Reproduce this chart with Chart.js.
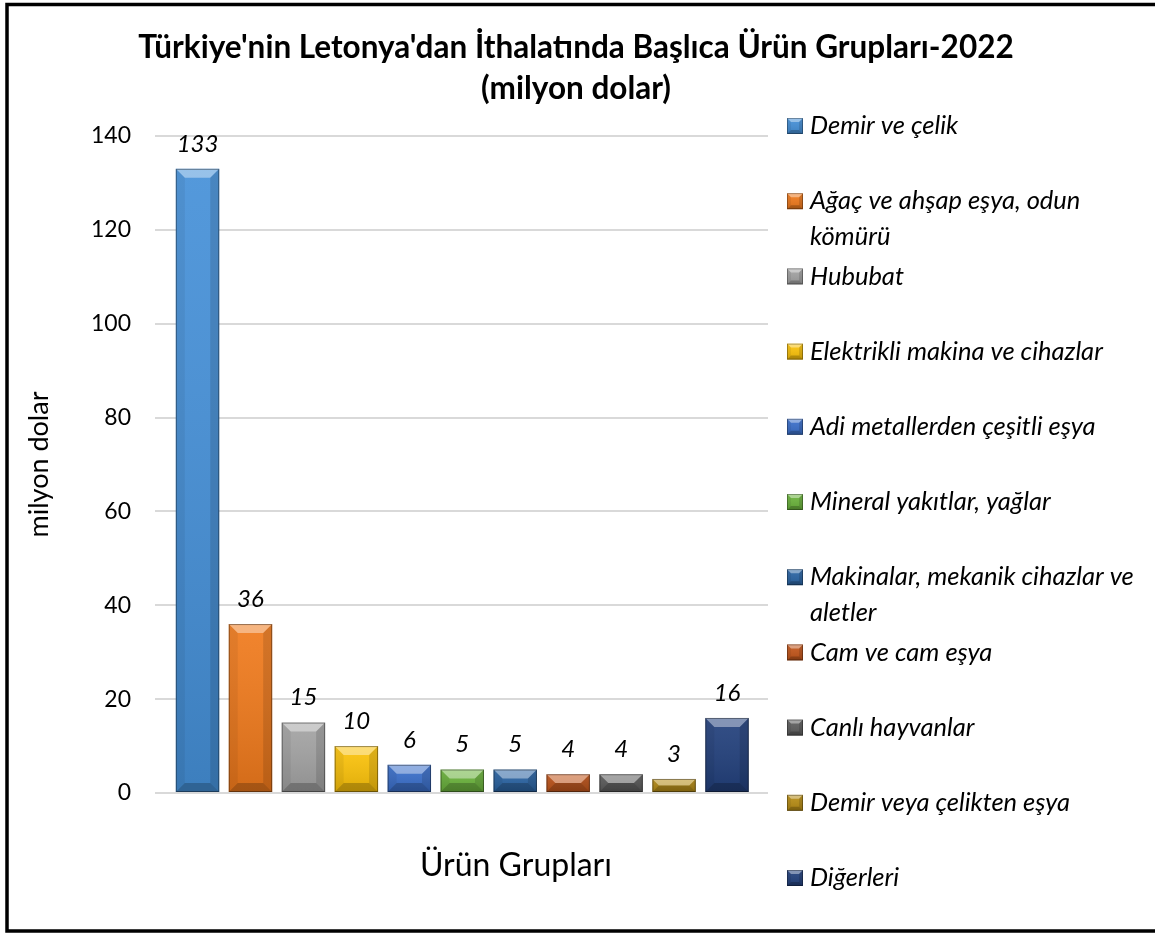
<!DOCTYPE html>
<html><head><meta charset="utf-8">
<script src="https://cdn.jsdelivr.net/npm/chart.js@4.4.1/dist/chart.umd.min.js"></script>
<style>html,body{margin:0;padding:0;background:#fff;overflow:hidden}#wrap{width:1155px;height:934px;position:relative}</style>
</head><body><div id="wrap"><canvas id="c" width="1155" height="934"></canvas></div>
<script>
const categories = ["Demir ve çelik","Ağaç ve ahşap eşya, odun kömürü","Hububat","Elektrikli makina ve cihazlar","Adi metallerden çeşitli eşya","Mineral yakıtlar, yağlar","Makinalar, mekanik cihazlar ve aletler","Cam ve cam eşya","Canlı hayvanlar","Demir veya çelikten eşya","Diğerleri"];
const values = [133,36,15,10,6,5,5,4,4,3,16];
const barColors = ["#4590d8","#f07a1c","#a3a3a3","#fcc30a","#3a6fcb","#6bb43c","#2a64a4","#c4561a","#5e5e5e","#b88d14","#22407c"];
const yMin = 0, yMax = 140, yStep = 20;
const titleLines = ["Türkiye'nin Letonya'dan İthalatında Başlıca Ürün Grupları-2022","(milyon dolar)"];
const yAxisTitle = "milyon dolar";
const xAxisTitle = "Ürün Grupları";

const FONT = "Lato, 'Open Sans', sans-serif";

function bevel(ctx, L, T, R, B, b, lineW){
  const w = R-L, h = B-T;
  const bb = Math.max(0, Math.min(b, h/2, w/2));
  ctx.save();
  const g = ctx.createLinearGradient(0, T, 0, B);
  g.addColorStop(0, 'rgba(255,255,255,0.08)');
  g.addColorStop(1, 'rgba(0,0,0,0.12)');
  ctx.fillStyle = g; ctx.fillRect(L, T, w, h);
  ctx.fillStyle = 'rgba(255,255,255,0.4)';
  ctx.beginPath(); ctx.moveTo(L,T); ctx.lineTo(R,T); ctx.lineTo(R-bb,T+bb); ctx.lineTo(L+bb,T+bb); ctx.closePath(); ctx.fill();
  ctx.fillStyle = 'rgba(0,0,0,0.22)';
  ctx.beginPath(); ctx.moveTo(L,B); ctx.lineTo(R,B); ctx.lineTo(R-bb,B-bb); ctx.lineTo(L+bb,B-bb); ctx.closePath(); ctx.fill();
  ctx.fillStyle = 'rgba(0,0,0,0.06)';
  ctx.beginPath(); ctx.moveTo(L,T); ctx.lineTo(L+bb,T+bb); ctx.lineTo(L+bb,B-bb); ctx.lineTo(L,B); ctx.closePath(); ctx.fill();
  ctx.fillStyle = 'rgba(0,0,0,0.12)';
  ctx.beginPath(); ctx.moveTo(R,T); ctx.lineTo(R-bb,T+bb); ctx.lineTo(R-bb,B-bb); ctx.lineTo(R,B); ctx.closePath(); ctx.fill();
  ctx.strokeStyle = 'rgba(0,0,0,0.38)';
  ctx.lineWidth = lineW;
  ctx.strokeRect(L+0.5, T+0.5, w-1, h-1);
  ctx.restore();
}

const decor = {
  id: 'decor',
  beforeDraw(chart){
    const ctx = chart.ctx;
    ctx.save(); ctx.fillStyle = '#fff'; ctx.fillRect(0,0,chart.width,chart.height); ctx.restore();
  },
  afterDatasetsDraw(chart){
    const ctx = chart.ctx;
    const meta = chart.getDatasetMeta(0);
    meta.data.forEach((bar, i) => {
      const p = bar.getProps(['x','y','base','width'], true);
      const L = p.x - p.width/2, R = p.x + p.width/2;
      bevel(ctx, L, Math.min(p.y,p.base), R, Math.max(p.y,p.base), 9, 1);
      ctx.save();
      ctx.fillStyle = '#000';
      ctx.font = "italic 24px " + FONT;
      ctx.textAlign = 'center'; ctx.textBaseline = 'middle';
      ctx.fillText(String(values[i]), p.x, p.y - 25);
      ctx.restore();
    });
  },
  afterDraw(chart){
    const ctx = chart.ctx;
    ctx.save();
    ctx.fillStyle = '#000';
    ctx.textAlign = 'center'; ctx.textBaseline = 'middle';
    ctx.font = "bold 31.5px " + FONT;
    ctx.fillText(titleLines[0], 576, 48);
    ctx.fillText(titleLines[1], 576, 89);
    ctx.font = "32px " + FONT;
    ctx.fillText(xAxisTitle, 516, 866);
    const mx = 787, ms = 16, tx = 810, y0 = 126, step = 75.2, lh = 36, maxW = 340;
    ctx.font = "italic 25.5px " + FONT;
    ctx.textAlign = 'left';
    categories.forEach((cat, i) => {
      const y = y0 + i*step;
      ctx.fillStyle = barColors[i];
      ctx.fillRect(mx, y - ms/2, ms, ms);
      bevel(ctx, mx, y - ms/2, mx+ms, y + ms/2, 4, 0.8);
      const words = cat.split(' ');
      const lines = []; let cur = '';
      words.forEach(w => {
        const t = cur ? cur + ' ' + w : w;
        if (ctx.measureText(t).width > maxW && cur) { lines.push(cur); cur = w; } else cur = t;
      });
      if (cur) lines.push(cur);
      ctx.fillStyle = '#000';
      lines.forEach((ln, k) => ctx.fillText(ln, tx, y + k*lh));
    });
    ctx.strokeStyle = '#000'; ctx.lineWidth = 3.5;
    ctx.beginPath();
    ctx.moveTo(1170, 4.5); ctx.lineTo(7, 4.5); ctx.lineTo(7, 931); ctx.lineTo(1170, 931);
    ctx.stroke();
    ctx.restore();
  }
};

new Chart(document.getElementById('c'), {
  type: 'bar',
  data: {
    datasets: [{
      data: values.map((v, i) => ({x: i, y: v})),
      backgroundColor: barColors,
      borderWidth: 0,
      barPercentage: 0.82,
      categoryPercentage: 1
    }]
  },
  options: {
    responsive: false,
    devicePixelRatio: 1,
    animation: false,
    layout: { padding: { left: 15, right: 387, top: 136, bottom: 141 } },
    plugins: { legend: { display: false }, tooltip: { enabled: false }, title: { display: false } },
    scales: {
      x: { type: 'linear', min: -0.803, max: 10.774, offset: false, grid: { offset: false }, display: false },
      y: {
        min: yMin, max: yMax,
        ticks: { stepSize: yStep, color: '#000', font: { family: FONT, size: 23 }, padding: 24 },
        grid: { color: '#d9d9d9', lineWidth: 2, drawTicks: false },
        border: { display: false },
        title: { display: true, text: yAxisTitle, color: '#000', font: { family: FONT, size: 27 }, padding: { top: 8, bottom: 0 } },
        afterFit(s) { s.width = 140; }
      }
    }
  },
  plugins: [decor]
});
</script></body></html>
